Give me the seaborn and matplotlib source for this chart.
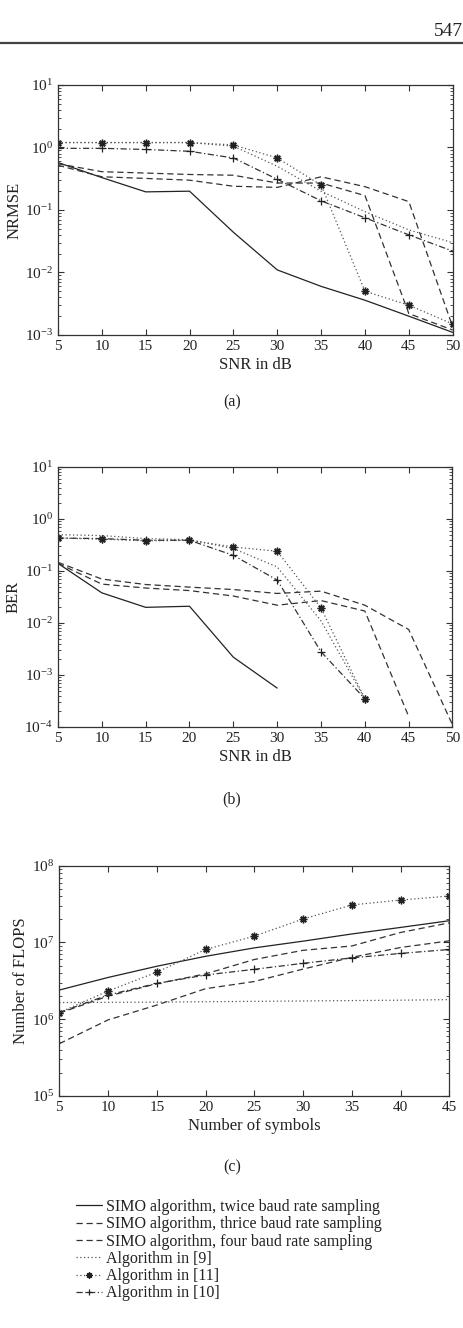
import numpy as np
import pandas as pd
import seaborn as sns
import matplotlib.pyplot as plt
from matplotlib.lines import Line2D
from matplotlib.ticker import LogLocator, NullFormatter, MultipleLocator

# x axes
snr = [5, 10, 15, 20, 25, 30, 35, 40, 45, 50]
symbols = [5, 10, 15, 20, 25, 30, 35, 40, 45]

# (a) NRMSE vs SNR
nrmse_twice = [0.575, 0.33, 0.195, 0.2, 0.044, 0.011, 0.006, 0.0036, 0.002, 0.0011]
nrmse_thrice = [0.55, 0.41, 0.39, 0.37, 0.36, 0.27, 0.27, 0.17, 0.0022, 0.0012]
nrmse_four = [0.52, 0.34, 0.32, 0.30, 0.24, 0.23, 0.34, 0.236, 0.136, 0.00135]
nrmse_alg9 = [1.2, 1.2, 1.2, 1.2, 1.05, 0.5, 0.2, 0.094, 0.048, 0.03]
nrmse_alg11 = [1.2, 1.2, 1.2, 1.2, 1.1, 0.68, 0.25, 0.005, 0.003, 0.0015]
nrmse_alg10 = [0.97, 0.97, 0.93, 0.87, 0.68, 0.31, 0.14, 0.075, 0.04, 0.022]

# (b) BER vs SNR (some curves stop early)
ber_twice = [0.14, 0.038, 0.02, 0.021, 0.0022, 0.00056]
ber_thrice = [0.147, 0.07, 0.055, 0.049, 0.044, 0.037, 0.041, 0.022, 0.0075, 0.00011]
ber_four = [0.14, 0.056, 0.047, 0.042, 0.033, 0.022, 0.027, 0.017, 0.00016]
ber_alg9 = [0.5, 0.48, 0.42, 0.4, 0.27, 0.12, 0.011, 0.00035]
ber_alg11 = [0.43, 0.41, 0.38, 0.39, 0.29, 0.24, 0.0195, 0.00035]
ber_alg10 = [0.43, 0.42, 0.39, 0.39, 0.2, 0.067, 0.0028, 0.00035]

# (c) FLOPS vs number of symbols
flops_twice = [2.4e6, 3.5e6, 4.9e6, 6.6e6, 8.5e6, 1.04e7, 1.29e7, 1.57e7, 1.92e7]
flops_thrice = [1.2e6, 2.0e6, 2.9e6, 3.9e6, 6.0e6, 7.9e6, 9.0e6, 1.35e7, 1.8e7]
flops_four = [4.8e5, 9.8e5, 1.53e6, 2.5e6, 3.1e6, 4.5e6, 6.4e6, 8.6e6, 1.05e7]
flops_alg9 = [1.65e6, 1.66e6, 1.67e6, 1.69e6, 1.71e6, 1.73e6, 1.75e6, 1.77e6, 1.8e6]
flops_alg11 = [1.22e6, 2.33e6, 4.1e6, 8.1e6, 1.21e7, 2.02e7, 3.08e7, 3.57e7, 4.03e7]
flops_alg10 = [1.22e6, 2.07e6, 2.93e6, 3.77e6, 4.47e6, 5.35e6, 6.3e6, 7.2e6, 8.1e6]

labels = ["SIMO algorithm, twice baud rate sampling",
          "SIMO algorithm, thrice baud rate sampling",
          "SIMO algorithm, four baud rate sampling",
          "Algorithm in [9]",
          "Algorithm in [11]",
          "Algorithm in [10]"]

STYLES = [
    dict(linestyle='-', color='#222222', linewidth=0.9),
    dict(linestyle=(0, (5, 3)), color='#333333', linewidth=0.9),
    dict(linestyle=(0, (5, 3)), color='#333333', linewidth=0.9),
    dict(linestyle=(0, (1, 2)), color='#555555', linewidth=0.9),
    dict(linestyle=(0, (1, 2)), color='#555555', linewidth=0.9,
         marker=(8, 2, 0), markersize=5.5, markeredgewidth=1.0,
         markeredgecolor='#222222'),
    dict(linestyle=(0, (5, 2, 1, 2)), color='#333333', linewidth=0.9,
         marker='+', markersize=6, markeredgewidth=0.9,
         markeredgecolor='#222222'),
]

sns.set_style("ticks")
plt.rcParams['font.family'] = ['Liberation Serif', 'DejaVu Serif']
plt.rcParams['mathtext.fontset'] = 'custom'
plt.rcParams['mathtext.rm'] = 'Liberation Serif'
plt.rcParams['mathtext.it'] = 'Liberation Serif:italic'
plt.rcParams['axes.edgecolor'] = '#333333'
plt.rcParams['axes.linewidth'] = 0.9
plt.rcParams['xtick.color'] = '#333333'
plt.rcParams['ytick.color'] = '#333333'
plt.rcParams['xtick.labelcolor'] = '#222222'
plt.rcParams['ytick.labelcolor'] = '#222222'


def draw_panel(ax, series, xlim, ylim, xlabel, ylabel):
    for (xs, ys), st in zip(series, STYLES):
        sns.lineplot(x=xs, y=ys, ax=ax, errorbar=None, sort=False, **st)
    ax.set_yscale('log')
    ax.set_xlim(*xlim)
    ax.set_ylim(*ylim)
    ax.xaxis.set_major_locator(MultipleLocator(5))
    ax.yaxis.set_major_locator(LogLocator(base=10, numticks=12))
    ax.yaxis.set_minor_locator(LogLocator(base=10, subs=np.arange(2, 10), numticks=12))
    ax.yaxis.set_minor_formatter(NullFormatter())
    ax.tick_params(which='both', direction='in', top=True, right=True,
                   labelsize=11, pad=3.5)
    ax.tick_params(which='major', length=4, width=0.8)
    ax.tick_params(which='minor', length=2, width=0.6)
    ax.set_xlabel(xlabel, fontsize=12, color='#222222', labelpad=3)
    ax.set_ylabel(ylabel, fontsize=12, color='#222222', labelpad=2)
    for s in ax.spines.values():
        s.set_visible(True)


fig = plt.figure(figsize=(4.64, 13.28), dpi=100)
W, H = 464.0, 1328.0

ax_a = fig.add_axes([58 / W, 1 - 335 / H, 394.7 / W, 250 / H])
ax_b = fig.add_axes([58 / W, 1 - 727 / H, 394.5 / W, 260 / H])
ax_c = fig.add_axes([59.3 / W, 1 - 1096 / H, 390 / W, 230.3 / H])

draw_panel(ax_a,
           [(snr, nrmse_twice), (snr, nrmse_thrice), (snr, nrmse_four),
            (snr, nrmse_alg9), (snr, nrmse_alg11), (snr, nrmse_alg10)],
           (5, 50), (1e-3, 1e1), "SNR in dB", "NRMSE")

draw_panel(ax_b,
           [(snr[:len(ber_twice)], ber_twice), (snr[:len(ber_thrice)], ber_thrice),
            (snr[:len(ber_four)], ber_four), (snr[:len(ber_alg9)], ber_alg9),
            (snr[:len(ber_alg11)], ber_alg11), (snr[:len(ber_alg10)], ber_alg10)],
           (5, 50), (1e-4, 1e1), "SNR in dB", "BER")

draw_panel(ax_c,
           [(symbols, flops_twice), (symbols, flops_thrice), (symbols, flops_four),
            (symbols, flops_alg9), (symbols, flops_alg11), (symbols, flops_alg10)],
           (5, 45), (1e5, 1e8), "Number of symbols", "Number of FLOPS")

# sub-figure captions
for txt, yy in [("(a)", 402), ("(b)", 799), ("(c)", 1167)]:
    fig.text(232 / W, 1 - yy / H, txt, ha='center', va='center',
             fontsize=11.5, color='#222222')

# page header: rule and page number
fig.add_artist(Line2D([0, 1], [1 - 43 / H, 1 - 43 / H], transform=fig.transFigure,
                      color='#444444', linewidth=1.6))
fig.text(463 / W, 1 - 31 / H, "547", ha='right', va='center', fontsize=14,
         color='#222222')

# shared legend built from panel (c) lines
handles = ax_c.get_lines()[:6]
fig.legend(handles, labels, loc='upper left', bbox_to_anchor=(76 / W, 1 - 1199 / H),
           frameon=False, fontsize=11.5, handlelength=1.6, handletextpad=0.3,
           labelspacing=0.08, borderaxespad=0, borderpad=0, markerscale=0.8,
           labelcolor='#222222')

fig.savefig("out.png", dpi=100)
